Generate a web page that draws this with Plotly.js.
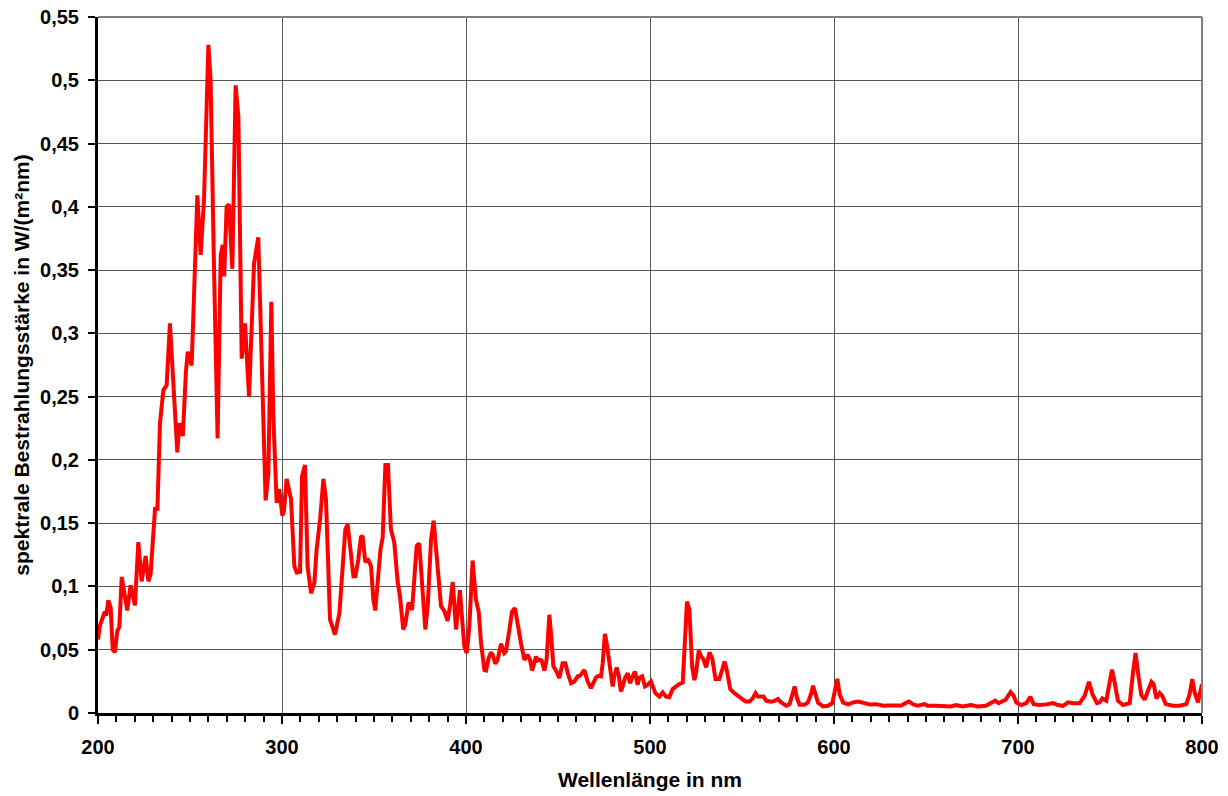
<!DOCTYPE html>
<html>
<head>
<meta charset="utf-8">
<script src="https://cdn.plot.ly/plotly-3.0.1.min.js"></script>
<style>
  html, body { margin: 0; padding: 0; background: #fff; }
  #chart { width: 1228px; height: 796px; }
</style>
</head>
<body>
<div id="chart"></div>
<script>
// Wavelength in nm
const wavelength = [
  200, 201, 203.7, 204.5, 205.6, 206.9, 208, 209.2, 210.5, 211.6,
  212.9, 215.9, 217.7, 220.1, 221.9, 223.7, 225.9, 227.4, 228.6, 231,
  232.3, 233.7, 235.5, 237.3, 239.1, 241, 243.1, 244.2, 246.1, 247.8,
  248.8, 250.9, 254, 255.8, 257.6, 260, 261.2, 263, 265, 266.7,
  267.8, 268.6, 269.9, 271.2, 273, 274.8, 276.3, 278.1, 279.9, 282.1,
  284.8, 287.1, 291.1, 292.6, 294.2, 295.3, 297.1, 298.5, 300.2, 301.1,
  302.5, 304.9, 306.7, 308, 309.8, 310.9, 312.5, 313.9, 315.8, 317.6,
  318.8, 320.7, 322.5, 323.9, 326.1, 328.8, 331.2, 333, 334.4, 335.7,
  337, 338.8, 339.9, 341.5, 342.9, 343.8, 345.3, 346.5, 348.4, 349.6,
  350.7, 352.5, 353.5, 354.7, 356.2, 357.6, 359.2, 361, 362.9, 364.1,
  365.9, 367, 368.8, 370.7, 371.9, 373.2, 374.6, 376.4, 377.9, 379.2,
  381, 382.4, 384.1, 386.4, 388.2, 390, 391.3, 392.8, 394.6, 396.7,
  397.8, 399.1, 400.4, 401.8, 403.6, 405.4, 406.9, 408.2, 410, 410.9,
  412.3, 413.6, 414.5, 415.9, 417.2, 419, 420.8, 421.7, 423.6, 425,
  426.6, 428.1, 429.9, 431.7, 433.5, 434.8, 435.9, 436.6, 438, 438.9,
  439.9, 441.1, 442.6, 443.8, 445.3, 446.2, 447.5, 448.9, 449.8, 450.7,
  452.5, 454, 455.3, 457.1, 458.9, 460.7, 462, 463, 464.3, 466.1,
  467.9, 469.2, 470.7, 472.1, 473.4, 474.3, 475.5, 476.6, 477.9, 479.7,
  480.6, 481.9, 483, 484.2, 485.1, 486.4, 487.9, 489.1, 490.6, 491.8,
  493.3, 494.2, 495.7, 497.3, 498.7, 500.5, 502.9, 505.1, 506.9, 508.7,
  510.5, 512.3, 514.2, 516, 517.8, 519.1, 520.1, 521.4, 522.9, 524.1,
  525, 526.5, 527.8, 529, 530.5, 532.3, 533.8, 535.6, 537.7, 539.2,
  540.5, 541.7, 543.6, 545.9, 547.7, 549.5, 551.9, 554.1, 555.9, 557.4,
  558.6, 560.4, 561.7, 563.2, 565.9, 567.7, 569.5, 571.3, 574, 575.9,
  577.3, 578.6, 579.9, 581.3, 584, 585.8, 587.7, 588.6, 589.8, 591.3,
  594, 596.7, 599.1, 600.7, 601.8, 603.1, 605, 607.7, 610.5, 613.2,
  615.9, 619.5, 623.1, 626.7, 630.3, 633.9, 636.6, 638.9, 640.7, 642.9,
  645.6, 649.2, 651, 655.5, 660, 663.6, 666.3, 669.9, 674.4, 678,
  682.5, 685.8, 687.6, 689.4, 691.5, 693.3, 696, 697.5, 699.1, 701.8,
  704.5, 706.7, 708.5, 711.8, 715.4, 719, 721.7, 724.5, 727.2, 729.9,
  733.5, 736.2, 738.6, 740.4, 742.9, 744.4, 745.8, 748, 749.8, 751.1,
  752.5, 754.3, 757.1, 760.7, 762.5, 763.9, 765.2, 767, 768.8, 770.6,
  772.5, 773.7, 775.2, 777, 778.4, 780.3, 784.2, 787.9, 791.5, 793.3,
  794.7, 796, 797.8, 800
];

// Spectral irradiance in W/(m²nm)
const irradiance = [
  0.058, 0.069, 0.080, 0.077, 0.089, 0.083, 0.050, 0.048, 0.065, 0.068,
  0.1075, 0.081, 0.101, 0.085, 0.135, 0.104, 0.124, 0.104, 0.110, 0.1615,
  0.1615, 0.229, 0.255, 0.259, 0.308, 0.262, 0.206, 0.229, 0.219, 0.270,
  0.2855, 0.2747, 0.409, 0.362, 0.405, 0.528, 0.500, 0.355, 0.217, 0.362,
  0.370, 0.345, 0.400, 0.402, 0.351, 0.496, 0.471, 0.280, 0.308, 0.250,
  0.355, 0.376, 0.168, 0.189, 0.325, 0.234, 0.166, 0.177, 0.156, 0.160,
  0.185, 0.169, 0.116, 0.111, 0.1115, 0.187, 0.196, 0.116, 0.0946, 0.103,
  0.129, 0.153, 0.185, 0.169, 0.074, 0.062, 0.079, 0.116, 0.145, 0.149,
  0.132, 0.108, 0.108, 0.1215, 0.139, 0.140, 0.119, 0.122, 0.116, 0.090,
  0.081, 0.119, 0.129, 0.1386, 0.196, 0.196, 0.145, 0.135, 0.103, 0.0925,
  0.066, 0.070, 0.0872, 0.0815, 0.103, 0.132, 0.134, 0.100, 0.066, 0.0846,
  0.137, 0.152, 0.119, 0.0846, 0.0807, 0.0727, 0.0846, 0.1035, 0.066, 0.097,
  0.076, 0.0526, 0.0473, 0.068, 0.1205, 0.0895, 0.080, 0.055, 0.034, 0.0336,
  0.0434, 0.048, 0.046, 0.0389, 0.042, 0.0547, 0.0473, 0.0486, 0.0658, 0.080,
  0.0829, 0.068, 0.055, 0.042, 0.046, 0.042, 0.0336, 0.0368, 0.0447, 0.0415,
  0.042, 0.0415, 0.0336, 0.042, 0.0776, 0.063, 0.0368, 0.0336, 0.030, 0.0276,
  0.0394, 0.0394, 0.0315, 0.0236, 0.025, 0.029, 0.0294, 0.0315, 0.034, 0.025,
  0.0197, 0.0236, 0.0283, 0.0294, 0.029, 0.0394, 0.0626, 0.0539, 0.038, 0.021,
  0.029, 0.036, 0.030, 0.017, 0.021, 0.0276, 0.0315, 0.0236, 0.029, 0.0328,
  0.0223, 0.028, 0.029, 0.021, 0.0223, 0.025, 0.0157, 0.013, 0.0162, 0.013,
  0.0125, 0.0189, 0.021, 0.023, 0.024, 0.067, 0.088, 0.0816, 0.0368, 0.026,
  0.0315, 0.0494, 0.0447, 0.0426, 0.036, 0.0478, 0.0434, 0.0268, 0.0268, 0.034,
  0.0407, 0.034, 0.0189, 0.0157, 0.0136, 0.0118, 0.009, 0.009, 0.0118, 0.0157,
  0.013, 0.013, 0.013, 0.0096, 0.009, 0.0096, 0.011, 0.0083, 0.0057, 0.007,
  0.0157, 0.021, 0.0118, 0.0065, 0.0065, 0.0083, 0.0157, 0.0215, 0.0157, 0.0083,
  0.0052, 0.0057, 0.0078, 0.0183, 0.027, 0.0145, 0.0082, 0.0068, 0.0084, 0.009,
  0.0078, 0.0068, 0.007, 0.0057, 0.006, 0.0057, 0.006, 0.0078, 0.009, 0.007,
  0.0057, 0.007, 0.0057, 0.0057, 0.0057, 0.0052, 0.0063, 0.0052, 0.0063, 0.0052,
  0.0057, 0.0078, 0.0097, 0.0078, 0.0097, 0.0105, 0.0165, 0.014, 0.0082, 0.0063,
  0.0078, 0.0128, 0.007, 0.0063, 0.0068, 0.0078, 0.0063, 0.0057, 0.0084, 0.0078,
  0.0078, 0.0136, 0.0247, 0.015, 0.0078, 0.0084, 0.0115, 0.0097, 0.0242, 0.0342,
  0.0242, 0.0097, 0.0063, 0.0078, 0.032, 0.0474, 0.032, 0.0142, 0.0105, 0.0176,
  0.0247, 0.023, 0.0115, 0.0158, 0.0136, 0.007, 0.0057, 0.0057, 0.007, 0.015,
  0.0268, 0.0163, 0.0084, 0.0228
];

const xTickValues = [200, 300, 400, 500, 600, 700, 800];
const xTickLabels = ['200', '300', '400', '500', '600', '700', '800'];
const yTickValues = [0, 0.05, 0.1, 0.15, 0.2, 0.25, 0.3, 0.35, 0.4, 0.45, 0.5, 0.55];
const yTickLabels = ['0', '0,05', '0,1', '0,15', '0,2', '0,25', '0,3', '0,35', '0,4', '0,45', '0,5', '0,55'];

const xTitle = 'Wellenlänge in nm';
const yTitle = 'spektrale Bestrahlungsstärke in W/(m²nm)';

const FONT = 'Arial, "Liberation Sans", sans-serif';
const tickFont = { family: FONT, size: 20, color: '#000', weight: 'bold' };
const titleFont = { family: FONT, size: 21, color: '#000', weight: 'bold' };

const trace = {
  x: wavelength,
  y: irradiance,
  type: 'scatter',
  mode: 'lines',
  line: { color: '#ff0000', width: 4, shape: 'linear' },
  hoverinfo: 'x+y'
};

const layout = {
  width: 1228,
  height: 796,
  paper_bgcolor: '#ffffff',
  plot_bgcolor: '#ffffff',
  margin: { l: 98, r: 26, t: 17, b: 83 },
  showlegend: false,
  xaxis: {
    range: [200, 800],
    tickmode: 'array',
    tickvals: xTickValues,
    ticktext: xTickLabels,
    ticks: 'outside',
    ticklen: 8,
    tickwidth: 2,
    tickcolor: '#000',
    tickfont: tickFont,
    ticklabelstandoff: 6,
    showgrid: true,
    gridcolor: '#555555',
    gridwidth: 1,
    showline: true,
    linecolor: '#000',
    linewidth: 3,
    zeroline: false,
    minor: { dtick: 10, tick0: 200, ticks: 'outside', ticklen: 6, tickwidth: 2, tickcolor: '#000', showgrid: false },
    title: { text: xTitle, font: titleFont, standoff: 16 },
    automargin: false
  },
  yaxis: {
    range: [0, 0.55],
    tickmode: 'array',
    tickvals: yTickValues,
    ticktext: yTickLabels,
    ticks: 'outside',
    ticklen: 7,
    tickwidth: 2,
    tickcolor: '#000',
    tickfont: tickFont,
    ticklabelstandoff: 5,
    showgrid: true,
    gridcolor: '#555555',
    gridwidth: 1,
    showline: true,
    linecolor: '#000',
    linewidth: 3,
    zeroline: false,
    title: { text: yTitle, font: titleFont, standoff: 5 },
    automargin: false
  },
  shapes: [
    { type: 'line', xref: 'paper', yref: 'paper', x0: 0, x1: 1, y0: 1, y1: 1, line: { color: '#808080', width: 2 } },
    { type: 'line', xref: 'paper', yref: 'paper', x0: 1, x1: 1, y0: 0, y1: 1, line: { color: '#808080', width: 2 } }
  ]
};

Plotly.newPlot('chart', [trace], layout, { displayModeBar: false, staticPlot: true });
</script>
</body>
</html>
